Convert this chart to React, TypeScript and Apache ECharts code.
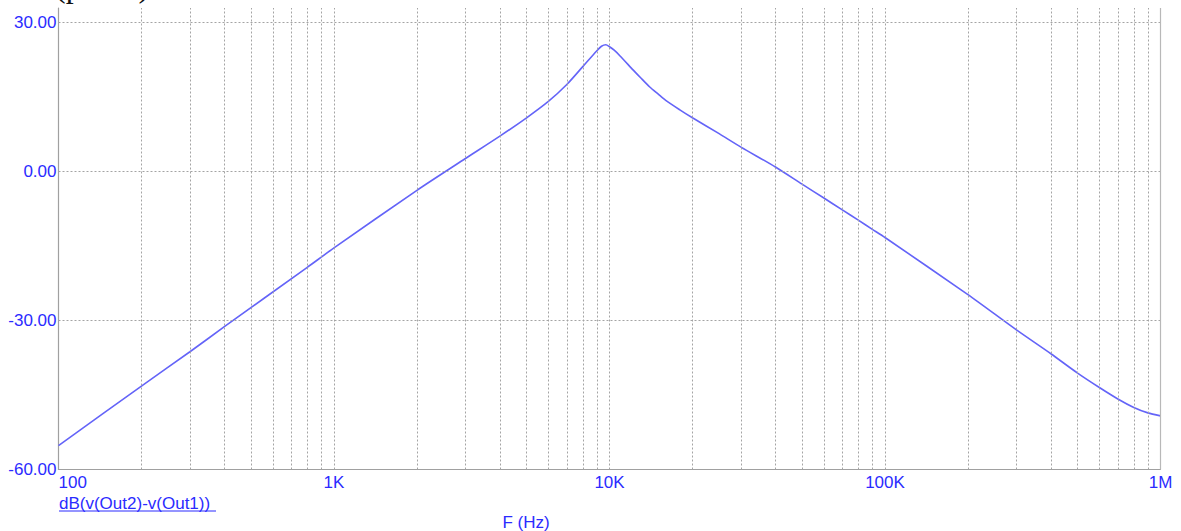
import React, { useEffect, useRef } from "react";
import * as echarts from "echarts";

// Frequency (Hz) and magnitude (dB)
const freqs = [
  100, 200, 300, 400, 800, 1000, 2000, 3000, 4000, 5000, 6000, 7000, 8000, 9000,
  9350, 9700, 10000, 10400, 10900, 12200, 13000, 14000, 15000, 16000, 18000,
  20000, 25000, 30000, 40000, 50000, 60000, 70000, 80000, 90000, 100000, 200000,
  300000, 400000, 500000, 600000, 700000, 800000, 900000, 1000000,
];
const dBValues = [
  -55.2, -43.2, -36.3, -31.25, -19.3, -15.4, -3.8, 2.6, 7.1, 10.8, 14.1, 17.5,
  21.1, 24.3, 25.2, 25.5, 25.1, 24.4, 23.3, 20.4, 18.8, 17.0, 15.6, 14.3, 12.4,
  10.8, 7.6, 4.9, 0.9, -2.55, -5.35, -7.75, -9.8, -11.65, -13.3, -24.8, -31.9,
  -36.7, -40.6, -43.5, -45.8, -47.5, -48.6, -49.2,
];

const xTickValues = [100, 1000, 10000, 100000, 1000000];
const xTickLabels = ["100", "1K", "10K", "100K", "1M"];
const yTickValues = [-60, -30, 0, 30];

const minorGridFreqs = [
  200, 300, 400, 500, 600, 700, 800, 900,
  2000, 3000, 4000, 5000, 6000, 7000, 8000, 9000,
  20000, 30000, 40000, 50000, 60000, 70000, 80000, 90000,
  200000, 300000, 400000, 500000, 600000, 700000, 800000, 900000,
];
const majorGridFreqs = [1000, 10000, 100000];
const hGridValues = [30, 0, -30];

const traceName = "dB(v(Out2)-v(Out1))";
const xAxisTitle = "F (Hz)";
const topText = "(phase)";

const BLUE = "#2b2bff";
const FONT = "'Liberation Sans', Arial, sans-serif";

export default function App() {
  const ref = useRef<HTMLDivElement>(null);

  useEffect(() => {
    if (!ref.current) return;
    const chart = echarts.init(ref.current, undefined, { renderer: "svg" });
    const gridStyle = { type: [2, 2] as any, color: "#a4a4a4", width: 1 };

    chart.setOption({
      animation: false,
      backgroundColor: "#ffffff",
      grid: { left: 58.5, right: 20.5, top: 8, bottom: 61.5, containLabel: false },
      xAxis: {
        type: "log",
        logBase: 10,
        min: 100,
        max: 1000000,
        axisLine: { show: true, onZero: false, lineStyle: { color: "#a0a0a0", width: 1.2 } },
        axisTick: { show: false },
        splitLine: { show: false },
        axisLabel: {
          color: BLUE,
          fontSize: 17,
          fontFamily: FONT,
          margin: 4,
          alignMinLabel: "left",
          alignMaxLabel: "center",
          showMinLabel: true,
          showMaxLabel: true,
          formatter: (v: number) => {
            const idx = xTickValues.findIndex((t) => Math.abs(t - v) / t < 1e-6);
            return idx >= 0 ? xTickLabels[idx] : "";
          },
        },
      },
      yAxis: {
        type: "value",
        min: -60,
        max: 32.9,
        interval: 30,
        axisLine: { show: true, onZero: false, lineStyle: { color: "#a0a0a0", width: 1.2 } },
        axisTick: { show: false },
        splitLine: { show: false },
        axisLabel: {
          color: BLUE,
          fontSize: 17,
          fontFamily: FONT,
          margin: 2,
          showMaxLabel: false,
          formatter: (v: number) => {
            const t = yTickValues.find((y) => Math.abs(y - v) < 1e-6);
            return t !== undefined ? t.toFixed(2) : "";
          },
        },
      },
      series: [
        {
          type: "line",
          data: freqs.map((f, i) => [f, dBValues[i]]),
          showSymbol: false,
          smooth: 0.25,
          lineStyle: { color: "#6464f8", width: 1.6 },
          markLine: {
            silent: true,
            symbol: "none",
            label: { show: false },
            animation: false,
            lineStyle: gridStyle,
            data: [
              ...minorGridFreqs.map((f) => ({ xAxis: f })),
              ...majorGridFreqs.map((f) => ({ xAxis: f })),
              ...hGridValues.map((y) => ({ yAxis: y })),
              { xAxis: 1000000, lineStyle: { type: "solid", color: "#b8b8b8", width: 1.2 } },
            ],
          },
          z: 3,
        },
      ],
      graphic: [
        {
          type: "text",
          x: 55,
          y: 2,
          style: {
            text: topText,
            font: "32px 'Liberation Serif', serif",
            fill: "#111",
            textAlign: "left",
            textVerticalAlign: "bottom",
          },
        },
        {
          type: "text",
          x: 59,
          y: 503,
          style: {
            text: traceName,
            fontSize: 17,
            fontFamily: FONT,
            fill: BLUE,
            textAlign: "left",
            textVerticalAlign: "middle",
          },
        },
        {
          type: "line",
          shape: { x1: 59, y1: 511, x2: 216, y2: 511 },
          style: { stroke: BLUE, lineWidth: 1 },
        },
        {
          type: "text",
          x: 526,
          y: 522,
          style: {
            text: xAxisTitle,
            fontSize: 17,
            fontFamily: FONT,
            fill: BLUE,
            textAlign: "center",
            textVerticalAlign: "middle",
          },
        },
      ],
    });

    return () => chart.dispose();
  }, []);

  return (
    <div
      ref={ref}
      style={{ position: "fixed", left: 0, top: 0, width: 1181, height: 531 }}
    />
  );
}
